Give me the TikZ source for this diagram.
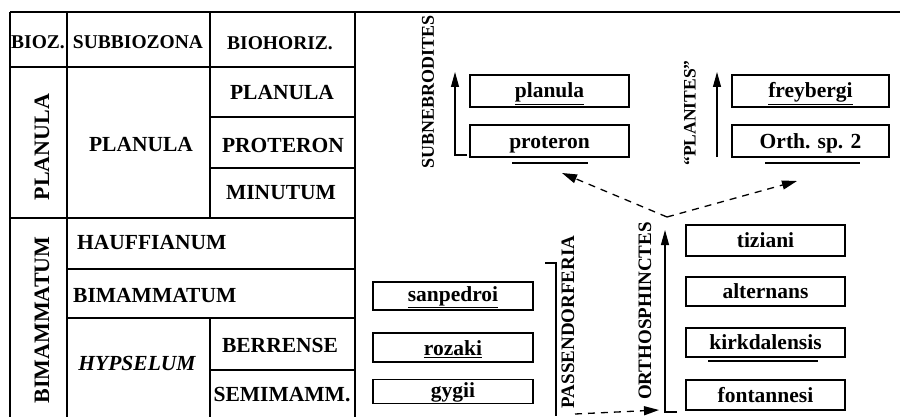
\documentclass[tikz,border=0pt]{standalone}
\usepackage{fontspec}
\setmainfont{Liberation Serif}
\usetikzlibrary{arrows.meta}
\tikzset{
  ln/.style={line width=1.4pt},
  thick line/.style={line width=2.4pt},
  hdr/.style={font=\fontsize{19.5}{21}\selectfont\bfseries, inner sep=0pt},
  cell/.style={font=\fontsize{21.5}{23}\selectfont\bfseries, inner sep=0pt},
  zone/.style={font=\fontsize{22}{24}\selectfont\bfseries, inner sep=0pt, rotate=90},
  vlab/.style={font=\fontsize{18}{20}\selectfont\bfseries, inner sep=0pt, rotate=90},
  sbox/.style={draw, line width=1.3pt, minimum width=159pt, inner sep=0pt,
               text height=14pt, text depth=0pt,
               font=\fontsize{21.5}{23}\selectfont\bfseries},
  uline/.style={line width=2.2pt},
  evo/.style={line width=1.1pt, -{Triangle[length=15pt,width=8pt]}},
  dsh/.style={line width=1.3pt, dash pattern=on 7pt off 6pt, -{Triangle[length=15pt,width=9pt]}}
}
\begin{document}
\begin{tikzpicture}[x=1pt,y=-1pt]
\useasboundingbox (0,0) rectangle (901,417);
% ---------- table grid ----------
\draw[ln] (10,12) -- (900,12);
\draw[ln] (10,12) -- (10,417);
\draw[ln] (67,12) -- (67,417);
\draw[ln] (210,12) -- (210,218);
\draw[ln] (210,318) -- (210,417);
\draw[thick line] (355,12) -- (355,417);
\draw[ln] (10,67) -- (355,67);
\draw[ln] (210,117) -- (355,117);
\draw[ln] (210,168) -- (355,168);
\draw[ln] (10,218) -- (355,218);
\draw[ln] (67,269) -- (355,269);
\draw[ln] (67,318) -- (355,318);
\draw[ln] (210,370) -- (355,370);
% ---------- table texts ----------
\node[hdr] (hbioz) at (38,42) {BIOZ.};
\node[hdr] (hsub) at (138,42) {SUBBIOZONA};
\node[hdr] (hhor) at (280,43) {BIOHORIZ.};
\node[zone] (zplan) at (42,147) {PLANULA};
\node[zone] (zbim) at (42,320) {BIMAMMATUM};
\node[cell] (splan) at (141,145) {PLANULA};
\node[cell] (hplan) at (282,93) {PLANULA};
\node[cell] (hprot) at (283,145) {PROTERON};
\node[cell] (hmin) at (281,193) {MINUTUM};
\node[cell, anchor=west] (hhauf) at (77,243) {HAUFFIANUM};
\node[cell, anchor=west] (hbim) at (73,295) {BIMAMMATUM};
\node[cell] (shyp) at (137,363) {\itshape HYPSELUM};
\node[cell] (hber) at (280,345) {BERRENSE};
\node[cell] (hsem) at (282,395) {SEMIMAMM.};
% ---------- boxes ----------
\node[sbox, minimum height=32pt] (planula) at (549.5,91) {\underline{planula}};
\node[sbox, minimum height=32pt] (proteron) at (549.5,141) {proteron};
\node[sbox, minimum height=32pt, minimum width=157pt] (freyb) at (810.5,91) {\underline{freybergi}};
\node[sbox, minimum height=32pt, minimum width=157pt] (orth) at (810.5,141) {Orth. sp. 2};
\node[sbox, minimum height=28pt, minimum width=160pt, text height=10pt] (sanp) at (453,296) {\underline{sanpedroi}};
\node[sbox, minimum height=29pt, minimum width=160pt, text height=16pt] (rozaki) at (453,347.5) {\underline{rozaki}};
\node[sbox, minimum height=24pt, minimum width=160pt, text height=12pt] (gygii) at (453,391.5) {gygii};
\node[sbox, minimum height=31pt] (tiziani) at (765.5,240.5) {tiziani};
\node[sbox, minimum height=29pt] (altern) at (765.5,291.5) {alternans};
\node[sbox, minimum height=29pt] (kirk) at (765.5,342.5) {kirkdalensis};
\node[sbox, minimum height=30pt] (fontan) at (765.5,395) {fontannesi};
% underlines below boxes
\draw[uline] (512,163) -- (588,163);
\draw[uline] (765,163) -- (860,163);
\draw[uline] (708,361) -- (818,361);
% ---------- lineage labels ----------
\node[vlab] (lsub) at (428,92) {SUBNEBRODITES};
\node[vlab, font=\fontsize{17.5}{19}\selectfont\bfseries] (lplan) at (690,113) {``PLANITES''};
\node[vlab, font=\fontsize{19}{21}\selectfont\bfseries] (lpass) at (568,322) {PASSENDORFERIA};
\node[vlab, font=\fontsize{19}{21}\selectfont\bfseries] (lorth) at (645,311) {ORTHOSPHINCTES};
% ---------- lineage arrows ----------
\coordinate (sA) at (467,155);
\coordinate (sB) at (455,155);
\coordinate (sC) at (455,72);
\draw[evo] (sA) -- (sB) -- (sC);
\coordinate (pB) at (717,157);
\coordinate (pC) at (717,72);
\draw[evo] (pB) -- (pC);
\coordinate (oA) at (677,412);
\coordinate (oB) at (665,412);
\coordinate (oC) at (665,230);
\draw[evo] (oA) -- (oB) -- (oC);
% bracket for Passendorferia
\coordinate (bA) at (545,263);
\coordinate (bB) at (556,263);
\coordinate (bC) at (556,416);
\draw[line width=1.2pt] (bA) -- (bB) -- (bC);
% ---------- dashed derivations ----------
\coordinate (vpt) at (667,217);
\coordinate (tl) at (562,173);
\coordinate (tr) at (797,181);
\draw[dsh] (vpt) -- (tl);
\draw[dsh] (vpt) -- (tr);
\coordinate (bs) at (575,414);
\coordinate (be) at (659,410);
\draw[dsh] (bs) -- (be);
\end{tikzpicture}
\end{document}
